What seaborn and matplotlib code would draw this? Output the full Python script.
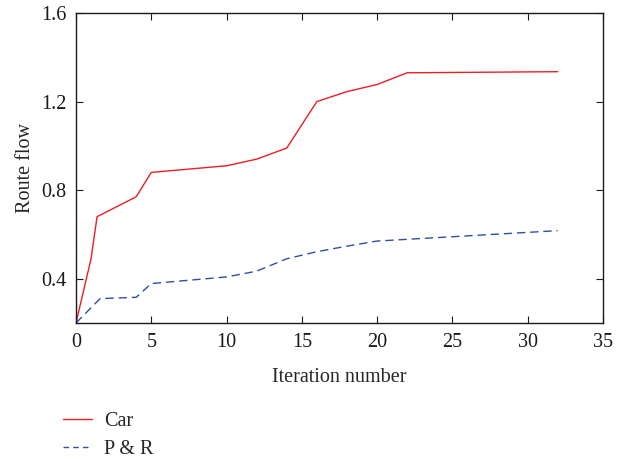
import matplotlib
matplotlib.use("Agg")
import matplotlib.pyplot as plt
from matplotlib.lines import Line2D
import seaborn as sns
import pandas as pd

car_x = [0, 1, 1.4, 4, 5, 10, 12, 14, 16, 18, 20, 22, 32]
car_y = [0.2, 0.49, 0.68, 0.77, 0.88, 0.91, 0.94, 0.99, 1.20, 1.245, 1.277, 1.33, 1.335]
pr_x = [0, 1.6, 4, 5, 10, 12, 14, 16, 18, 20, 32]
pr_y = [0.2, 0.31, 0.316, 0.378, 0.408, 0.434, 0.49, 0.522, 0.547, 0.57, 0.617]

x_ticks = [0, 5, 10, 15, 20, 25, 30, 35]
y_ticks = [0.4, 0.8, 1.2, 1.6]

sns.set_style("ticks")
plt.rcParams['font.family'] = ['Liberation Serif', 'DejaVu Serif']
FS = 14.5
RED = "#ee1d23"
BLUE = "#2f4fa6"

fig = plt.figure(figsize=(6.26, 4.58), dpi=100)
ax = fig.add_axes([0.1214, 0.2948, 0.963 - 0.1214, 0.9716 - 0.2948])

car = pd.DataFrame({"x": car_x, "y": car_y})
pr = pd.DataFrame({"x": pr_x, "y": pr_y})
sns.lineplot(data=car, x="x", y="y", ax=ax, color=RED, lw=1.0)
sns.lineplot(data=pr, x="x", y="y", ax=ax, color=BLUE, lw=1.0,
             linestyle=(0, (6, 3.5)))

ax.set_xlim(0, 35)
ax.set_ylim(0.2, 1.6)
ax.set_xticks(x_ticks)
ax.set_yticks(y_ticks)
ax.set_xticklabels([str(v) for v in x_ticks])
ax.set_yticklabels([f"{v:.1f}" for v in y_ticks])
ax.tick_params(direction="in", top=True, right=True, length=5, width=0.8,
               labelsize=FS, colors="#1a1a1a", pad=7)
for s in ax.spines.values():
    s.set_linewidth(1.0)
    s.set_color("#1a1a1a")
ax.set_xlabel("Iteration number", fontsize=FS, labelpad=12)
ax.set_ylabel("Route flow", fontsize=FS, labelpad=4)

handles = [Line2D([], [], color=RED, lw=1.0),
           Line2D([], [], color=BLUE, lw=1.0, linestyle=(0, (4, 3)))]
labels = ["Car", "P & R"]
fig.legend(handles, labels, loc="upper left",
           bbox_to_anchor=(63 / 626, 1 - 412 / 458),
           bbox_transform=fig.transFigure, frameon=False, fontsize=FS,
           handlelength=1.45, handletextpad=0.6, labelspacing=0.45,
           borderaxespad=0, borderpad=0)

fig.savefig("out.png", dpi=100)
